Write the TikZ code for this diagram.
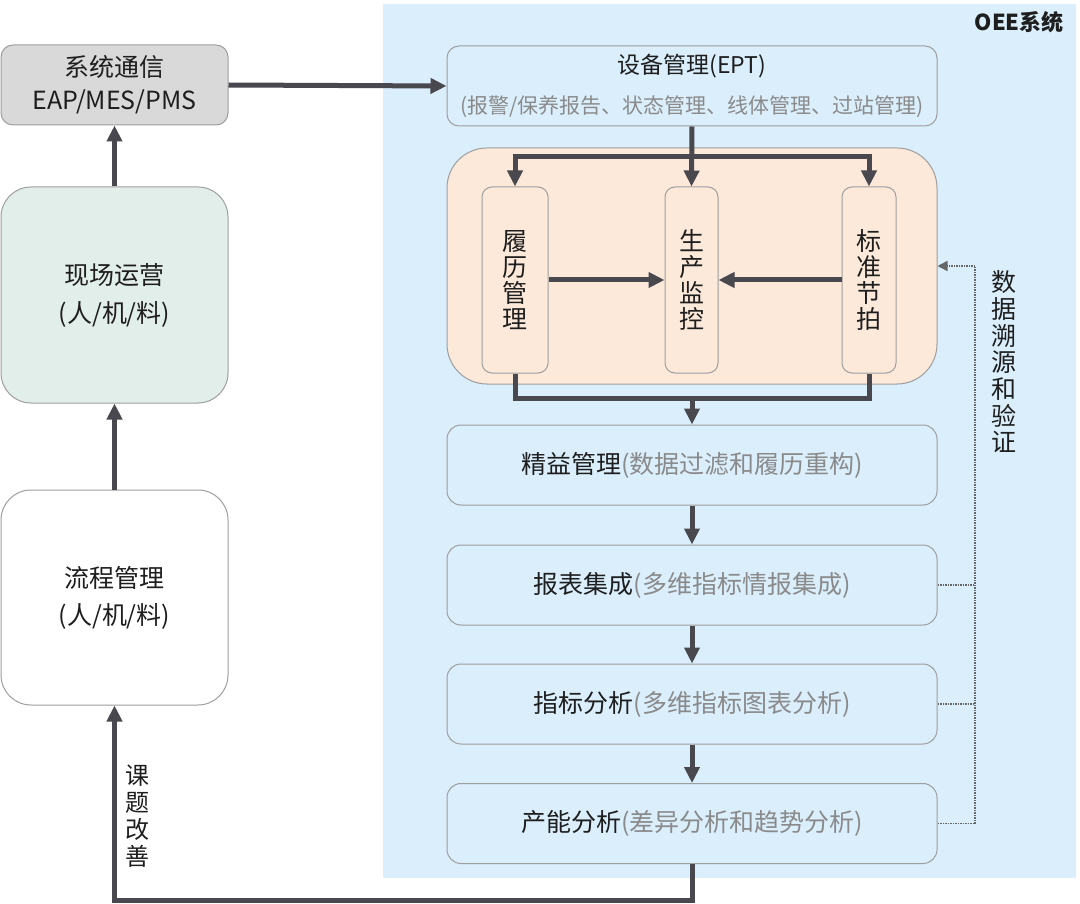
\documentclass[tikz,border=0pt]{standalone}
\usepackage{fontspec}
\setmainfont{Noto Sans CJK SC}
\usetikzlibrary{arrows.meta}
\definecolor{bgc}{HTML}{DAEEFC}
\definecolor{orc}{HTML}{FDE9DA}
\definecolor{gbox}{HTML}{D9D9D9}
\definecolor{grn}{HTML}{E2EEEA}
\definecolor{bd}{HTML}{9E9E9E}
\definecolor{ar}{HTML}{48484E}
\definecolor{subc}{HTML}{8A8A8A}
\definecolor{tx}{HTML}{1E1E1E}
\definecolor{fbc}{HTML}{666666}
\newcommand\myfs[2]{\fontsize{#1}{#2}\selectfont}
\begin{document}
\begin{tikzpicture}[x=1pt,y=-1pt,
  box/.style={draw=bd, line width=1pt, inner sep=0pt, align=center, text=tx},
  arr/.style={draw=ar, line width=5pt, line join=miter, -{Triangle[length=16pt,width=15pt]}},
  ln/.style={draw=ar, line width=5pt, line join=miter},
  fb/.style={draw=fbc, line width=1.6pt, dash pattern=on 1.5pt off 1pt},
  lbl/.style={align=center, text=tx, inner sep=0pt}]
\useasboundingbox (0,0) rectangle (1080,904);
\fill[white] (0,0) rectangle (1080,904);
\fill[bgc] (383,4) rectangle (1076,878);
\node[lbl, font=\bfseries\myfs{22}{26}, anchor=east] (oee) at (1064,22) {OEE系统};

% left column
\node[box, fill=gbox, rounded corners=12pt, minimum width=227pt, minimum height=80pt, font=\myfs{25}{33}] (sys) at (114.5,85) {系统通信\\EAP/MES/PMS};
\node[box, fill=grn, rounded corners=30pt, minimum width=227pt, minimum height=216pt, font=\myfs{25}{38}] (xc) at (114.5,295) {现场运营\\(人/机/料)};
\node[box, fill=white, rounded corners=30pt, minimum width=227pt, minimum height=215pt, font=\myfs{25}{37}] (lc) at (114.5,597.5) {流程管理\\(人/机/料)};

% OEE column
\node[box, fill=bgc, rounded corners=12pt, minimum width=490pt, minimum height=80pt, font=\myfs{23}{33}] (dev) at (692,86)
  {设备管理(EPT)\\[7pt]\myfs{21}{33}\color{subc}(报警/保养报告、状态管理、线体管理、过站管理)};
\node[box, fill=orc, rounded corners=40pt, minimum width=490pt, minimum height=236pt] (pm) at (692,266) {};
\node[box, fill=orc, rounded corners=10pt, minimum width=66pt, minimum height=186pt, font=\myfs{25}{26}] (lv) at (515,280) {履\\历\\管\\理};
\node[box, fill=orc, rounded corners=10pt, minimum width=53pt, minimum height=186pt, font=\myfs{25}{26}] (sc) at (691.5,280) {生\\产\\监\\控};
\node[box, fill=orc, rounded corners=10pt, minimum width=54pt, minimum height=186pt, font=\myfs{25}{26}] (bz) at (869,280) {标\\准\\节\\拍};

\node[box, fill=bgc, rounded corners=14pt, minimum width=490pt, minimum height=80pt, font=\myfs{25}{30}] (jy) at (692,465) {精益管理\textcolor{subc}{(数据过滤和履历重构)}};
\node[box, fill=bgc, rounded corners=14pt, minimum width=490pt, minimum height=80pt, font=\myfs{25}{30}] (bb) at (692,585) {报表集成\textcolor{subc}{(多维指标情报集成)}};
\node[box, fill=bgc, rounded corners=14pt, minimum width=490pt, minimum height=80pt, font=\myfs{25}{30}] (zb) at (692,704) {指标分析\textcolor{subc}{(多维指标图表分析)}};
\node[box, fill=bgc, rounded corners=14pt, minimum width=490pt, minimum height=80pt, font=\myfs{25}{30}] (cn) at (692,823.5) {产能分析\textcolor{subc}{(差异分析和趋势分析)}};

% connectors
\draw[arr] (xc.north) -- (sys.south);
\draw[arr] (lc.north) -- (xc.south);
\draw[arr] (sys.east) -- (dev.west);

\coordinate (bus) at (692,157);
\draw[arr] (dev.south) -- (sc.north);
\draw[arr] (bus) -| (lv.north);
\draw[arr] (bus) -| (bz.north);
\draw[arr] (lv.east) -- (sc.west);
\draw[arr] (bz.west) -- (sc.east);
\coordinate (bot) at (692,398);
\draw[ln] (lv.south) |- (bot) -| (bz.south);
\draw[arr] (bot) -- (jy.north);
\draw[arr] (jy.south) -- (bb.north);
\draw[arr] (bb.south) -- (zb.north);
\draw[arr] (zb.south) -- (cn.north);

\coordinate (loopc) at (400,900);
\draw[arr] (cn.south) |- (loopc) -| (lc.south);

\coordinate (fbt) at (975,266);
\draw[fb] (bb.east) -- (fbt |- bb.east);
\draw[fb] (zb.east) -- (fbt |- zb.east);
\draw[fb, -{Triangle[length=10pt,width=10pt]}] (cn.east) -| (fbt) -- (pm.east);

\node[lbl, font=\myfs{25}{26.7}] (trace) at (1004,362) {数\\据\\溯\\源\\和\\验\\证};
\node[lbl, font=\myfs{24}{27}] (imp) at (137,816) {课\\题\\改\\善};
\end{tikzpicture}
\end{document}
